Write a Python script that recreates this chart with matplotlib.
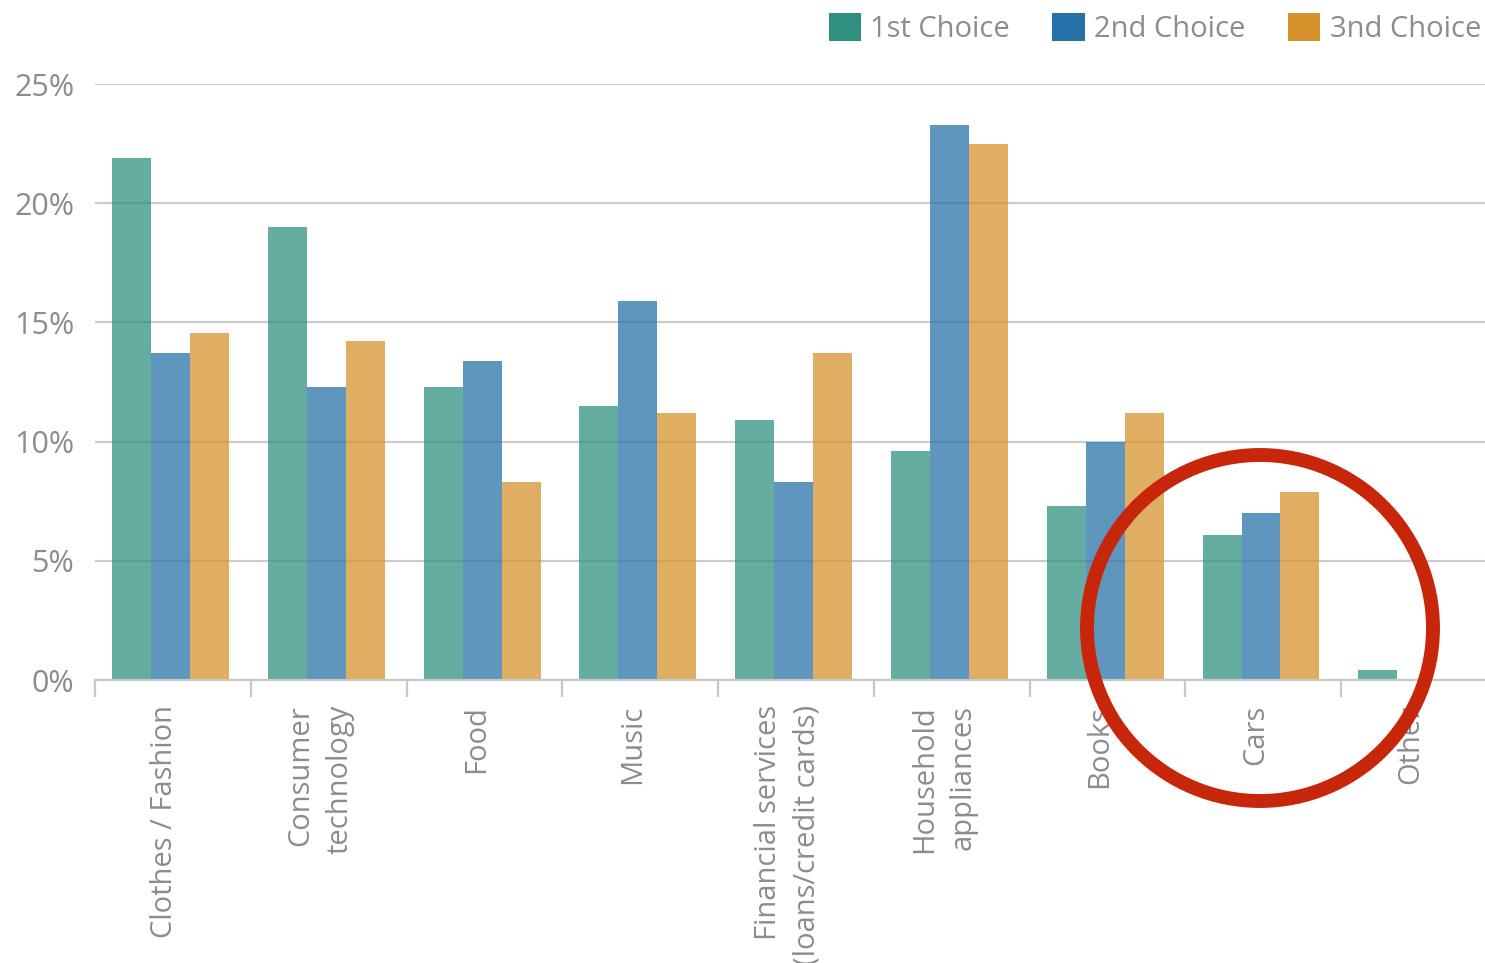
import numpy as np
import matplotlib.pyplot as plt
from matplotlib.patches import Patch, Ellipse
from matplotlib.transforms import ScaledTranslation

categories = ['Clothes / Fashion', 'Consumer\ntechnology', 'Food', 'Music',
              'Financial services\n(loans/credit cards)', 'Household\nappliances',
              'Books', 'Cars', 'Other']
first = [21.9, 19.0, 12.3, 11.5, 10.9, 9.6, 7.3, 6.1, 0.4]
second = [13.7, 12.3, 13.4, 15.9, 8.3, 23.3, 10.0, 7.0, 0.0]
third = [14.55, 14.2, 8.3, 11.2, 13.7, 22.5, 11.2, 7.9, 0.0]
series = ['1st Choice', '2nd Choice', '3nd Choice']
colors = ['#2f9080', '#2672a8', '#d6922c']

plt.rcParams['font.family'] = ['Open Sans', 'DejaVu Sans']

fig = plt.figure(figsize=(14.85, 9.63), dpi=100)
W, H = 1485, 963
ax = fig.add_axes([95 / W, 1 - 680 / H, (1497 - 95) / W, (680 - 84) / H])

x = np.arange(len(categories))
w = 0.25
for i, vals in enumerate([first, second, third]):
    ax.bar(x + (i - 1) * w - 0.015, vals, w, color=colors[i], alpha=0.74,
           linewidth=0, zorder=2)

ax.set_xlim(-0.5, len(categories) - 0.5)
ax.set_ylim(0, 25)
ax.set_yticks([0, 5, 10, 15, 20, 25])
ax.set_yticklabels(['0%', '5%', '10%', '15%', '20%', '25%'])
ax.yaxis.grid(True, color='#cccccc', linewidth=1.6, zorder=0)
ax.set_axisbelow(True)
for s in ['top', 'right', 'left']:
    ax.spines[s].set_visible(False)
ax.spines['bottom'].set_color('#c8c8c8')
ax.spines['bottom'].set_linewidth(1.6)
ax.tick_params(axis='y', length=0, pad=15, labelsize=22, labelcolor='#8c8c8c')

ax.set_xticks(x)
ax.set_xticklabels(categories, rotation=90, fontsize=21, color='#8c8c8c',
                   va='top', ha='center', multialignment='right',
                   linespacing=1.45)
ax.tick_params(axis='x', length=0, pad=18)
shift = ScaledTranslation(-8 / 100, 0, fig.dpi_scale_trans)
for lab in ax.get_xticklabels():
    lab.set_transform(lab.get_transform() + shift)
ax.set_xticks(np.arange(len(categories)) - 0.5, minor=True)
ax.tick_params(axis='x', which='minor', length=12, width=1.6, color='#c8c8c8')

handles = [Patch(facecolor=c, edgecolor='none') for c in colors]
fig.legend(handles, series, loc='upper right', bbox_to_anchor=(1.011, 1.008),
           ncol=3, frameon=False, fontsize=21, labelcolor='#8c8c8c',
           handlelength=1.1, handleheight=1.1, handletextpad=0.33,
           columnspacing=1.45, borderaxespad=0.3)

circle = Ellipse((1260 / W, 1 - 628 / H), 346 / W, 346 / H,
                 transform=fig.transFigure, fill=False, edgecolor='#c8260a',
                 linewidth=10, zorder=10)
fig.add_artist(circle)

fig.savefig('out.png', dpi=100)
